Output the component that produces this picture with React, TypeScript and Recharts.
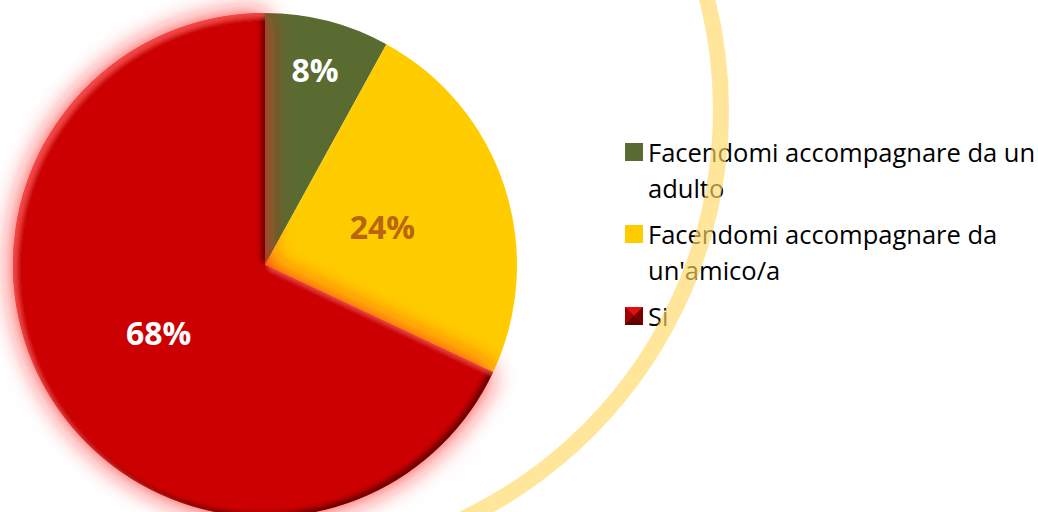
import React from "react";
import { PieChart, Pie, Cell, Legend } from "recharts";

const categories = [
  "Facendomi accompagnare da un adulto",
  "Facendomi accompagnare da un'amico/a",
  "Si",
];
const values = [8, 24, 68];

const sliceFills = ["#5A6B31", "#FFCC00", "#CC0000"];
const legendColors = ["#5A6B31", "#FFCC00", "#B00000"];
const labelColors = ["#FFFFFF", "#B8650E", "#FFFFFF"];
const labelRadiusFactor = [0.8, 0.49, 0.5];

const data = categories.map((name, i) => ({ name, value: values[i] }));

const FONT = "'Open Sans', 'Noto Sans', sans-serif";
const RAD = Math.PI / 180;

const renderLabel = (props: any) => {
  const { cx, cy, midAngle, outerRadius, index, value } = props;
  const r = outerRadius * labelRadiusFactor[index];
  const x = cx + r * Math.cos(-midAngle * RAD);
  const y = cy + r * Math.sin(-midAngle * RAD);
  return (
    <text
      x={x}
      y={y}
      fill={labelColors[index]}
      textAnchor="middle"
      dominantBaseline="central"
      fontFamily={FONT}
      fontWeight={700}
      fontSize={32}
    >
      {`${value}%`}
    </text>
  );
};

const Marker = ({ index }: { index: number }) => {
  if (index === 2) {
    return (
      <svg width={18} height={18} style={{ flex: "0 0 18px", marginTop: 9 }}>
        <rect x={0} y={0} width={18} height={18} fill="#8A0000" />
        <polygon points="0,0 18,0 9,9" fill="#E01010" />
        <polygon points="0,0 0,18 9,9" fill="#A00000" />
        <polygon points="18,0 18,18 9,9" fill="#7A0000" />
        <polygon points="0,18 18,18 9,9" fill="#600000" />
      </svg>
    );
  }
  return (
    <div
      style={{
        width: 18,
        height: 18,
        flex: "0 0 18px",
        marginTop: 9,
        background: legendColors[index],
      }}
    />
  );
};

const renderLegend = () => (
  <div style={{ fontFamily: FONT, fontSize: 25.5, color: "#000" }}>
    {categories.map((c, i) => (
      <div
        key={c}
        style={{ display: "flex", alignItems: "flex-start", marginBottom: 10 }}
      >
        <Marker index={i} />
        <div style={{ marginLeft: 5, lineHeight: "36px", width: 392 }}>{c}</div>
      </div>
    ))}
  </div>
);

export default function App() {
  return (
    <div
      style={{
        position: "absolute",
        left: 0,
        top: 0,
        width: 1038,
        height: 512,
        overflow: "hidden",
        background: "#fff",
      }}
    >
      <svg width={0} height={0} style={{ position: "absolute" }}>
        <defs>
          <filter
            id="redFx"
            x="-0.2"
            y="-0.2"
            width="1.4"
            height="1.4"
            filterUnits="objectBoundingBox"
          >
            <feGaussianBlur in="SourceAlpha" stdDeviation="13" result="blur" />
            <feFlood floodColor="#FF1A1A" floodOpacity="0.9" result="gc" />
            <feComposite in="gc" in2="blur" operator="in" result="glow" />
            <feOffset in="SourceAlpha" dx="-4" dy="-4" result="offDark" />
            <feGaussianBlur in="offDark" stdDeviation="2.5" result="offDarkB" />
            <feComposite in="SourceAlpha" in2="offDarkB" operator="out" result="darkEdge" />
            <feFlood floodColor="#300000" floodOpacity="0.8" result="dc" />
            <feComposite in="dc" in2="darkEdge" operator="in" result="darkEdgeC" />
            <feOffset in="SourceAlpha" dx="4" dy="4" result="offLight" />
            <feGaussianBlur in="offLight" stdDeviation="2" result="offLightB" />
            <feComposite in="SourceAlpha" in2="offLightB" operator="out" result="lightEdge" />
            <feFlood floodColor="#FF5050" floodOpacity="0.75" result="lc" />
            <feComposite in="lc" in2="lightEdge" operator="in" result="lightEdgeC" />
            <feMerge>
              <feMergeNode in="glow" />
              <feMergeNode in="SourceGraphic" />
              <feMergeNode in="darkEdgeC" />
              <feMergeNode in="lightEdgeC" />
            </feMerge>
          </filter>
        </defs>
      </svg>
      <PieChart width={1038} height={512} margin={{ top: 0, right: 0, bottom: 0, left: 0 }}>
        <Pie
          data={data}
          dataKey="value"
          nameKey="name"
          cx={265}
          cy={265}
          outerRadius={252}
          startAngle={90}
          endAngle={-270}
          stroke="none"
          label={renderLabel}
          labelLine={false}
          isAnimationActive={false}
        >
          {data.map((d, i) => (
            <Cell
              key={d.name}
              fill={sliceFills[i]}
              filter={i === 2 ? "url(#redFx)" : undefined}
            />
          ))}
        </Pie>
        <Legend
          layout="vertical"
          align="right"
          verticalAlign="top"
          content={renderLegend}
          wrapperStyle={{ left: 625, top: 134, width: 413 }}
        />
      </PieChart>
      <svg
        width={1038}
        height={512}
        style={{ position: "absolute", left: 0, top: 0, pointerEvents: "none" }}
      >
        <path
          d="M 701.9 -20 A 453 453 0 0 1 437.7 530"
          fill="none"
          stroke="#FFD966"
          strokeOpacity={0.65}
          strokeWidth={16}
        />
      </svg>
    </div>
  );
}
